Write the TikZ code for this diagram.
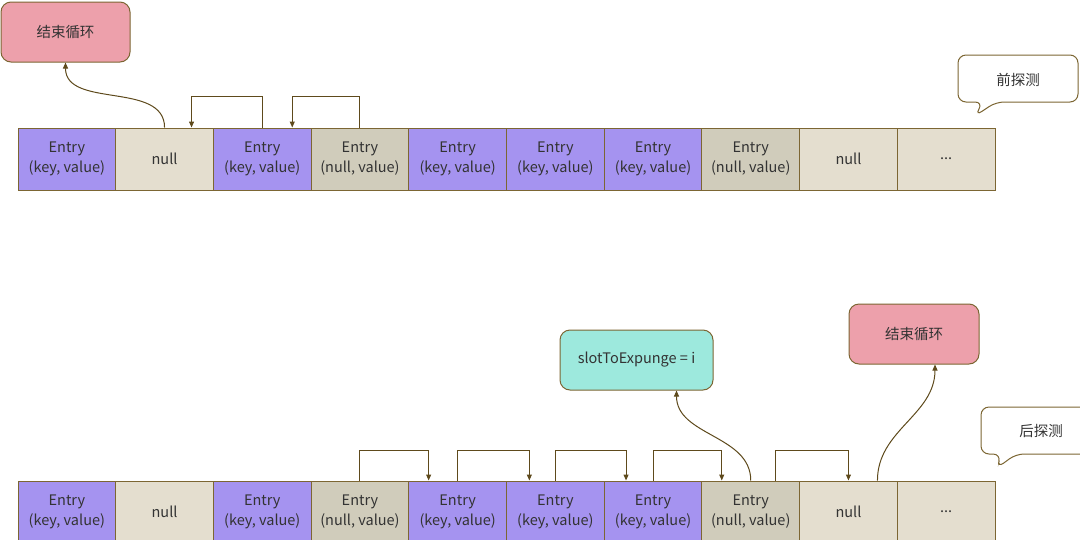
\documentclass[tikz,border=0pt]{standalone}
\usepackage{fontspec}
\setmainfont{Noto Sans CJK SC}
\usetikzlibrary{arrows.meta}
\usepackage{xcolor}

\definecolor{keycell}{HTML}{A593F0}
\definecolor{nullcell}{HTML}{E4DECF}
\definecolor{stalecell}{HTML}{D0CCBB}
\definecolor{edge}{HTML}{7C6633}
\definecolor{arrowc}{HTML}{5E4A1C}
\definecolor{endfill}{HTML}{EDA0AB}
\definecolor{slotfill}{HTML}{9DE9DD}
\definecolor{txt}{HTML}{333333}

\begin{document}
\begin{tikzpicture}[x=1pt,y=-1pt,>={Triangle[length=6pt,width=5pt]},font=\fontsize{14.5}{20}\selectfont,
  cell/.style={draw=edge,line width=1pt,minimum width=97.7pt,minimum height=62pt,inner sep=0pt,align=center,text=txt},
  keyc/.style={cell,fill=keycell},
  nullc/.style={cell,fill=nullcell},
  stalec/.style={cell,fill=stalecell},
  callout/.style={draw=edge,line width=1pt,rounded corners=10pt,minimum height=60pt,text=txt},
  link/.style={->,draw=arrowc,line width=1pt},
  bubble/.style={draw=edge,line width=1pt,fill=white,rounded corners=8pt}]
\useasboundingbox (0,0) rectangle (1080,539);

% top row: forward probe
\node[keyc] (t1) at (66.85,159) {Entry\\(key, value)};
\node[nullc] (t2) at (164.55,159) {null};
\node[keyc] (t3) at (262.25,159) {Entry\\(key, value)};
\node[stalec] (t4) at (359.95,159) {Entry\\(null, value)};
\node[keyc] (t5) at (457.65,159) {Entry\\(key, value)};
\node[keyc] (t6) at (555.35,159) {Entry\\(key, value)};
\node[keyc] (t7) at (653.05,159) {Entry\\(key, value)};
\node[stalec] (t8) at (750.75,159) {Entry\\(null, value)};
\node[nullc] (t9) at (848.45,159) {null};
\node[nullc] (t10) at (946.15,159) {...};

\node[callout,fill=endfill,minimum width=129pt] (topend) at (65.5,32) {结束循环};
\draw[link] (t2.north) to[out=90,in=-90] (topend.south);
\draw[link] (t3.north) -- ++(0,-31) -| ([xshift=27pt]t2.north);
\draw[link] (t4.north) -- ++(0,-31) -| ([xshift=30pt]t3.north);

\draw[bubble] (983,102) -- (975,116) -- (996,102) -- (1078,102) -- (1078,55) -- (958,55) -- (958,102) -- cycle;
\node[text=txt] (fwd) at (1018,80) {前探测};

% bottom row: backward probe
\node[keyc] (b1) at (66.85,512) {Entry\\(key, value)};
\node[nullc] (b2) at (164.55,512) {null};
\node[keyc] (b3) at (262.25,512) {Entry\\(key, value)};
\node[stalec] (b4) at (359.95,512) {Entry\\(null, value)};
\node[keyc] (b5) at (457.65,512) {Entry\\(key, value)};
\node[keyc] (b6) at (555.35,512) {Entry\\(key, value)};
\node[keyc] (b7) at (653.05,512) {Entry\\(key, value)};
\node[stalec] (b8) at (750.75,512) {Entry\\(null, value)};
\node[nullc] (b9) at (848.45,512) {null};
\node[nullc] (b10) at (946.15,512) {...};

\draw[link] (b4.north) -- ++(0,-30) -| ([xshift=-29pt]b5.north);
\draw[link] (b5.north) -- ++(0,-30) -| ([xshift=-26pt]b6.north);
\draw[link] (b6.north) -- ++(0,-30) -| ([xshift=-27pt]b7.north);
\draw[link] (b7.north) -- ++(0,-30) -| ([xshift=-29pt]b8.north);
\draw[link] ([xshift=25pt]b8.north) -- ++(0,-30) -| (b9.north);

\node[callout,fill=slotfill,minimum width=153pt] (slot) at (636.5,360) {slotToExpunge = i};
\node[callout,fill=endfill,minimum width=130pt] (botend) at (914,334) {结束循环};
\draw[link] (b8.north) to[out=90,in=-90] ([xshift=40pt]slot.south);
\draw[link] ([xshift=29pt]b9.north) to[out=90,in=-90] ([xshift=21pt]botend.south);

\draw[bubble] (1001,454) -- (997,468) -- (1016,454) -- (1090,454) -- (1090,407) -- (981,407) -- (981,454) -- cycle;
\node[text=txt] (bwd) at (1041,431) {后探测};
\end{tikzpicture}
\end{document}
